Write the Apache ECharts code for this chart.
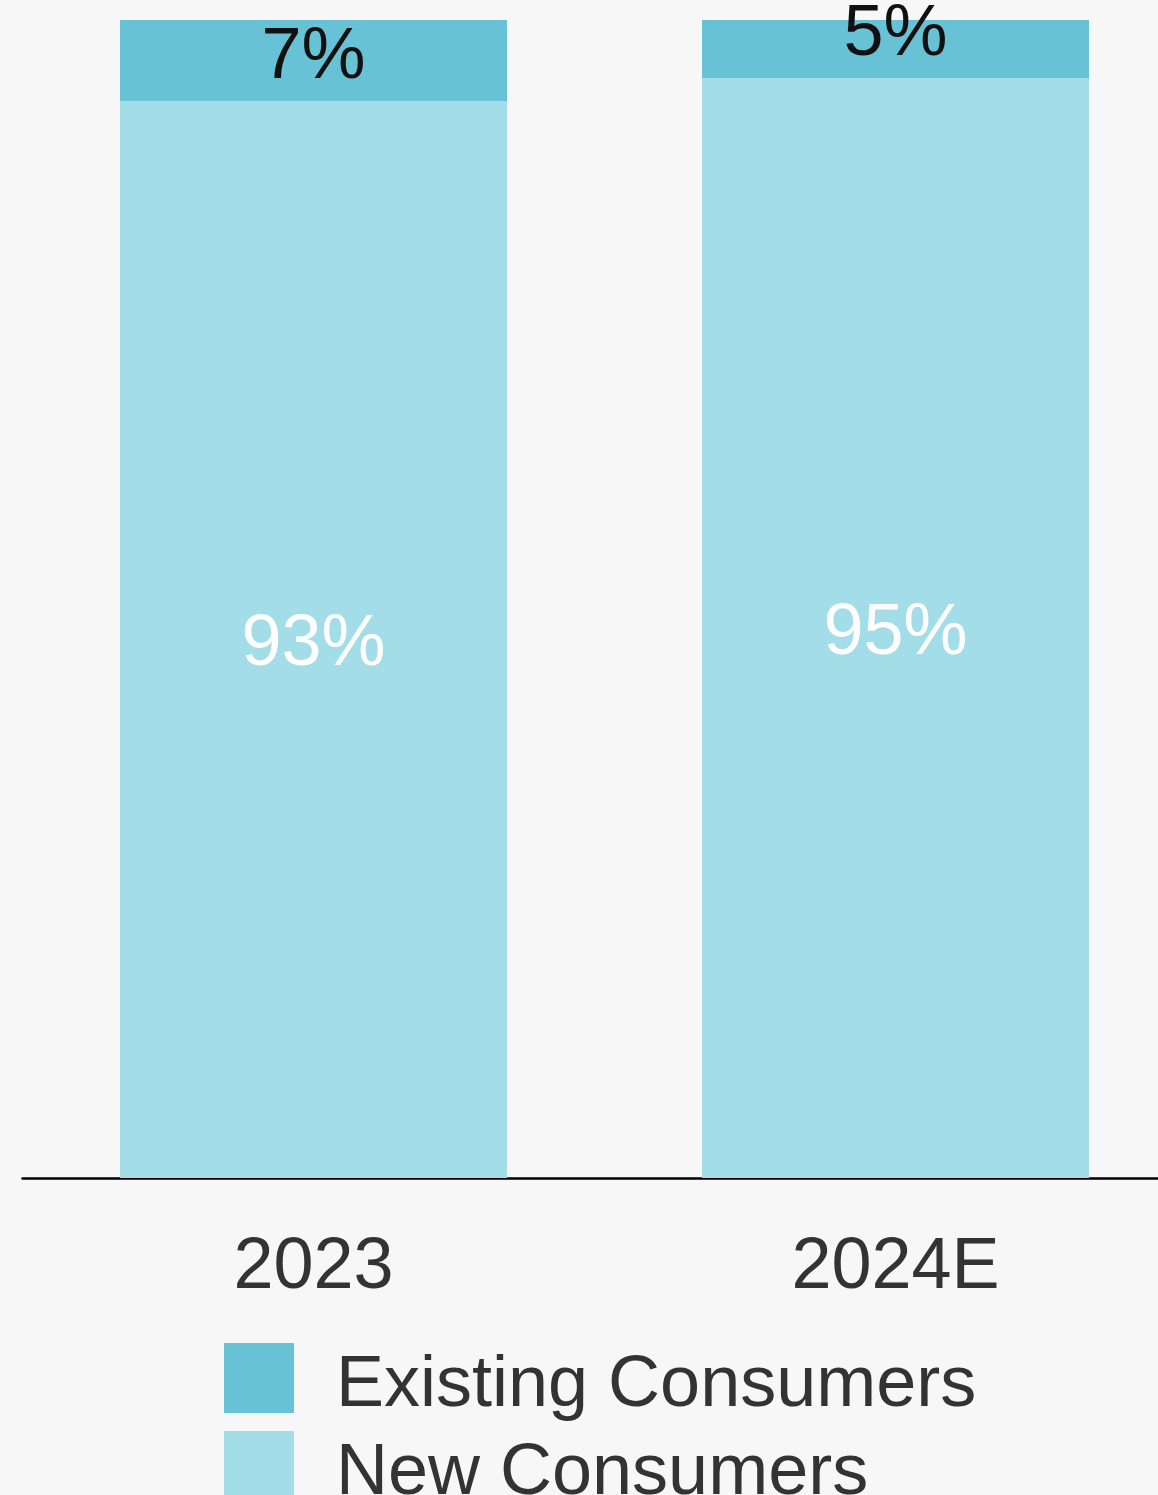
<!DOCTYPE html>
<html>
<head>
<meta charset="utf-8">
<script src="https://cdn.jsdelivr.net/npm/echarts@6/dist/echarts.min.js"></script>
<style>
html,body{margin:0;padding:0;background:#f7f7f7;}
#chart{width:1158px;height:1495px;}
</style>
</head>
<body>
<div id="chart"></div>
<script>
const categories = ['2023', '2024E'];
const seriesNames = ['Existing Consumers', 'New Consumers'];
const newConsumers = [93, 95];
const existingConsumers = [7, 5];
const existingLabelOffsets = [[0, -2], [0, -14]];

const chart = echarts.init(document.getElementById('chart'));
const font = '"Liberation Sans", Arial, Helvetica, sans-serif';
chart.setOption({
  backgroundColor: '#f7f7f7',
  animation: false,
  grid: { left: 22.5, top: 20, right: -28.5, bottom: 317, containLabel: false, outerBoundsMode: 'none' },
  legend: {
    orient: 'vertical', left: 224, top: 1343, height: 300, padding: 0,
    data: seriesNames,
    icon: 'rect', itemWidth: 70, itemHeight: 70, itemGap: 9,
    formatter: name => '{t|' + name + '}',
    textStyle: {
      fontSize: 72, color: '#333', fontFamily: font, padding: [0, 0, 0, 37],
      rich: { t: { fontSize: 72, color: '#333', fontFamily: font, padding: [16, 0, 0, 0] } }
    }
  },
  xAxis: {
    type: 'category', data: categories,
    axisLine: { lineStyle: { color: '#000', width: 2.5 } },
    axisTick: { show: false },
    axisLabel: { fontSize: 72, color: '#333', fontFamily: font, margin: 54 }
  },
  yAxis: { type: 'value', min: 0, max: 100, show: false, splitLine: { show: false } },
  series: [
    {
      name: 'New Consumers', type: 'bar', stack: 'total', barWidth: 387,
      itemStyle: { color: '#a2dde8' },
      data: newConsumers,
      label: { show: true, position: 'inside', offset: [0, 6], formatter: '{c}%', fontSize: 72, color: '#fff', fontFamily: font }
    },
    {
      name: 'Existing Consumers', type: 'bar', stack: 'total', barWidth: 387,
      itemStyle: { color: '#68c2d6' },
      data: existingConsumers.map((v, i) => ({ value: v, label: { offset: existingLabelOffsets[i] } })),
      label: { show: true, position: 'inside', formatter: '{c}%', fontSize: 72, color: '#111', fontFamily: font }
    }
  ]
});
</script>
</body>
</html>
